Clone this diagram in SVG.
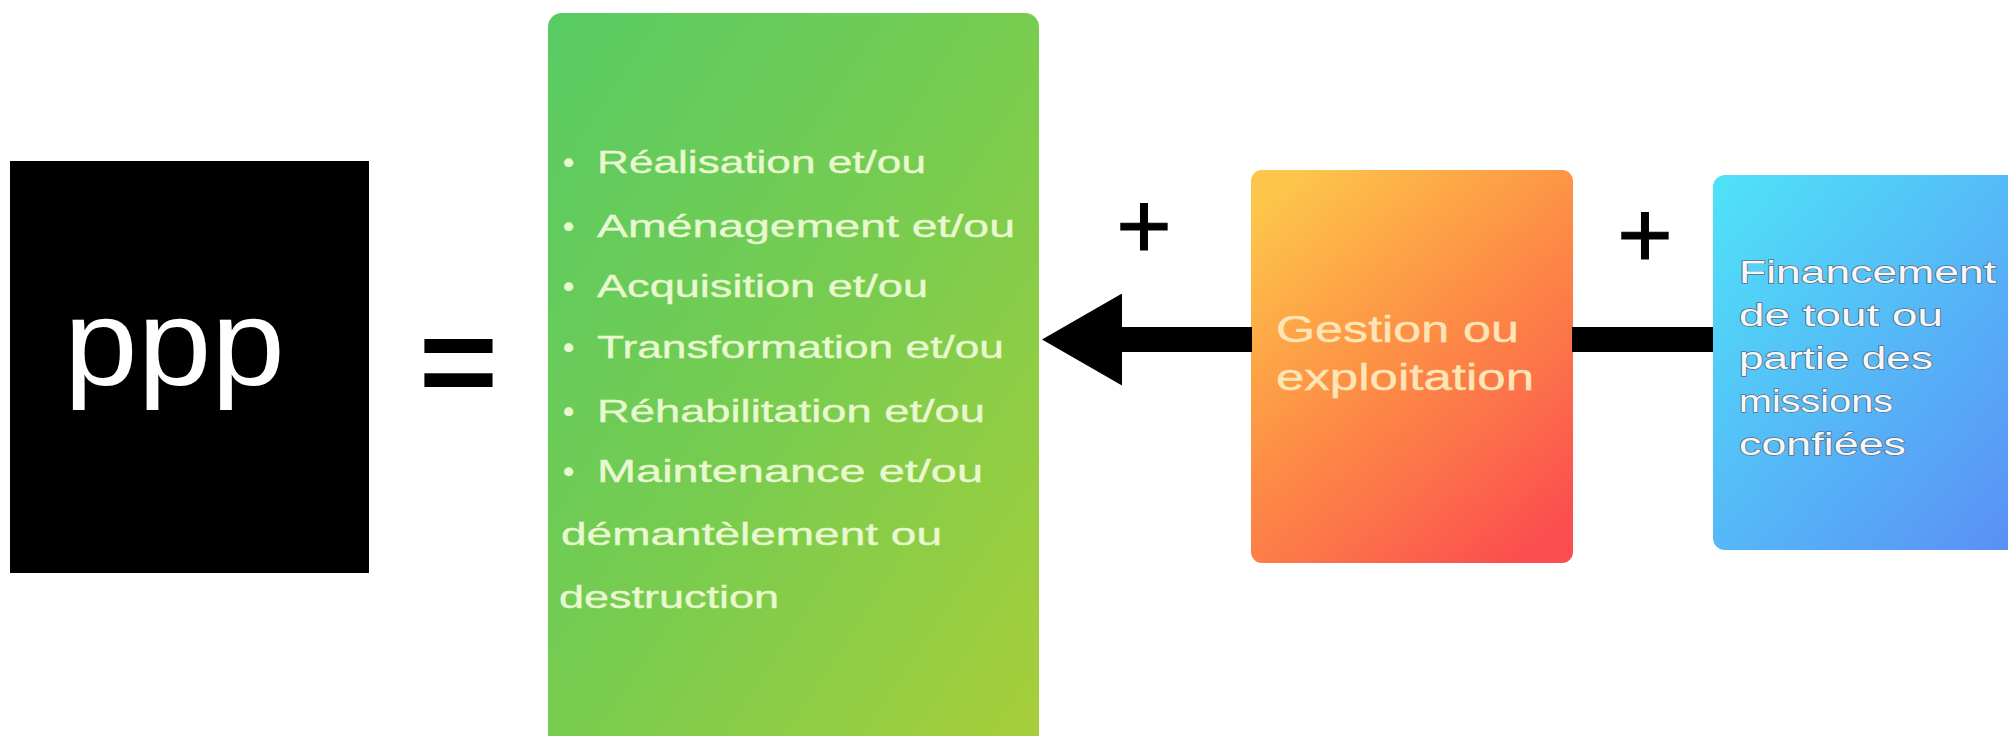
<svg xmlns="http://www.w3.org/2000/svg" width="2008" height="736" viewBox="0 0 2008 736">
  <defs>
    <linearGradient id="gGreen" x1="0" y1="0" x2="1" y2="1">
      <stop offset="0" stop-color="#58cb64"/>
      <stop offset="0.5" stop-color="#78cc4f"/>
      <stop offset="1" stop-color="#a8ce3a"/>
    </linearGradient>
    <linearGradient id="gOrange" x1="0.15" y1="0" x2="0.85" y2="1">
      <stop offset="0" stop-color="#fdc64a"/>
      <stop offset="0.45" stop-color="#fd8f45"/>
      <stop offset="0.75" stop-color="#fc6c4b"/>
      <stop offset="1" stop-color="#fb4c4f"/>
    </linearGradient>
    <linearGradient id="gBlue" x1="0" y1="0" x2="1" y2="1">
      <stop offset="0" stop-color="#4fe3f8"/>
      <stop offset="0.5" stop-color="#55b8f7"/>
      <stop offset="1" stop-color="#5b8cf6"/>
    </linearGradient>
    <marker id="head" markerUnits="userSpaceOnUse" markerWidth="80" markerHeight="92" viewBox="0 0 80 92" refX="0" refY="46" orient="auto">
      <path d="M0,0 L80,46 L0,92 Z" fill="#000"/>
    </marker>
  </defs>
  <style>
    .sans { font-family: "Liberation Sans", Arial, sans-serif; }
    .gtxt { font-family: "Liberation Sans", Arial, sans-serif; font-size: 32px; fill: #e8f8cf; stroke: #e8f8cf; stroke-width: 0.4px; }
    .otxt { font-family: "Liberation Sans", Arial, sans-serif; font-size: 37px; fill: #fde5b6; stroke: #fde5b6; stroke-width: 0.4px; }
    .btxt { font-family: "Liberation Sans", Arial, sans-serif; font-size: 31px; fill: #f4f8fb; stroke: #5d6f86; stroke-width: 1.4px; paint-order: stroke; }
    .conn { stroke: #000; stroke-width: 25; fill: none; }
    .sym { font-family: "Liberation Sans", Arial, sans-serif; fill: #000; }
  </style>
  <rect width="2008" height="736" fill="#ffffff"/>

  <g id="node-ppp">
    <rect x="10" y="161" width="359" height="412" fill="#000"/>
    <text class="sans" x="64" y="385" font-size="122" fill="#ffffff" textLength="221" lengthAdjust="spacingAndGlyphs">ppp</text>
  </g>

  <g id="equals">
    <text class="sym" transform="translate(458.5,405) scale(0.8,0.75)" text-anchor="middle" font-size="170" font-weight="bold">=</text>
  </g>

  <g id="node-missions">
    <rect x="548" y="13" width="491" height="740" rx="14" fill="url(#gGreen)"/>
    <text class="gtxt" x="563" y="173">•</text>
    <text class="gtxt" x="597" y="173" textLength="329" lengthAdjust="spacingAndGlyphs">Réalisation et/ou</text>
    <text class="gtxt" x="563" y="237">•</text>
    <text class="gtxt" x="597" y="237" textLength="418" lengthAdjust="spacingAndGlyphs">Aménagement et/ou</text>
    <text class="gtxt" x="563" y="297">•</text>
    <text class="gtxt" x="597" y="297" textLength="331" lengthAdjust="spacingAndGlyphs">Acquisition et/ou</text>
    <text class="gtxt" x="563" y="358">•</text>
    <text class="gtxt" x="597" y="358" textLength="407" lengthAdjust="spacingAndGlyphs">Transformation et/ou</text>
    <text class="gtxt" x="563" y="422">•</text>
    <text class="gtxt" x="597" y="422" textLength="388" lengthAdjust="spacingAndGlyphs">Réhabilitation et/ou</text>
    <text class="gtxt" x="563" y="482">•</text>
    <text class="gtxt" x="597" y="482" textLength="386" lengthAdjust="spacingAndGlyphs">Maintenance et/ou</text>
    <text class="gtxt" x="561" y="545" textLength="381" lengthAdjust="spacingAndGlyphs">démantèlement ou</text>
    <text class="gtxt" x="559" y="608" textLength="220" lengthAdjust="spacingAndGlyphs">destruction</text>
  </g>

  <g id="node-gestion">
    <rect x="1251" y="170" width="322" height="393" rx="11" fill="url(#gOrange)"/>
    <text class="otxt" x="1276" y="342" textLength="243" lengthAdjust="spacingAndGlyphs">Gestion ou</text>
    <text class="otxt" x="1276" y="390" textLength="258" lengthAdjust="spacingAndGlyphs">exploitation</text>
  </g>

  <g id="node-financement">
    <rect x="1713" y="175" width="320" height="375" rx="12" fill="url(#gBlue)"/>
    <text class="btxt" x="1739" y="283" textLength="257" lengthAdjust="spacingAndGlyphs">Financement</text>
    <text class="btxt" x="1739" y="326" textLength="204" lengthAdjust="spacingAndGlyphs">de tout ou</text>
    <text class="btxt" x="1739" y="369" textLength="194" lengthAdjust="spacingAndGlyphs">partie des</text>
    <text class="btxt" x="1739" y="412" textLength="154" lengthAdjust="spacingAndGlyphs">missions</text>
    <text class="btxt" x="1739" y="455" textLength="167" lengthAdjust="spacingAndGlyphs">confiées</text>
  </g>

  <g id="connectors">
    <line class="conn" x1="1252" y1="339.5" x2="1122" y2="339.5" marker-end="url(#head)"/>
    <line class="conn" x1="1713" y1="339.5" x2="1572" y2="339.5"/>
  </g>

  <g id="plus-signs">
    <text class="sym" x="1144" y="258" text-anchor="middle" font-size="95" stroke="#000" stroke-width="1.2">+</text>
    <text class="sym" x="1645" y="267" text-anchor="middle" font-size="95" stroke="#000" stroke-width="1.2">+</text>
  </g>
</svg>
